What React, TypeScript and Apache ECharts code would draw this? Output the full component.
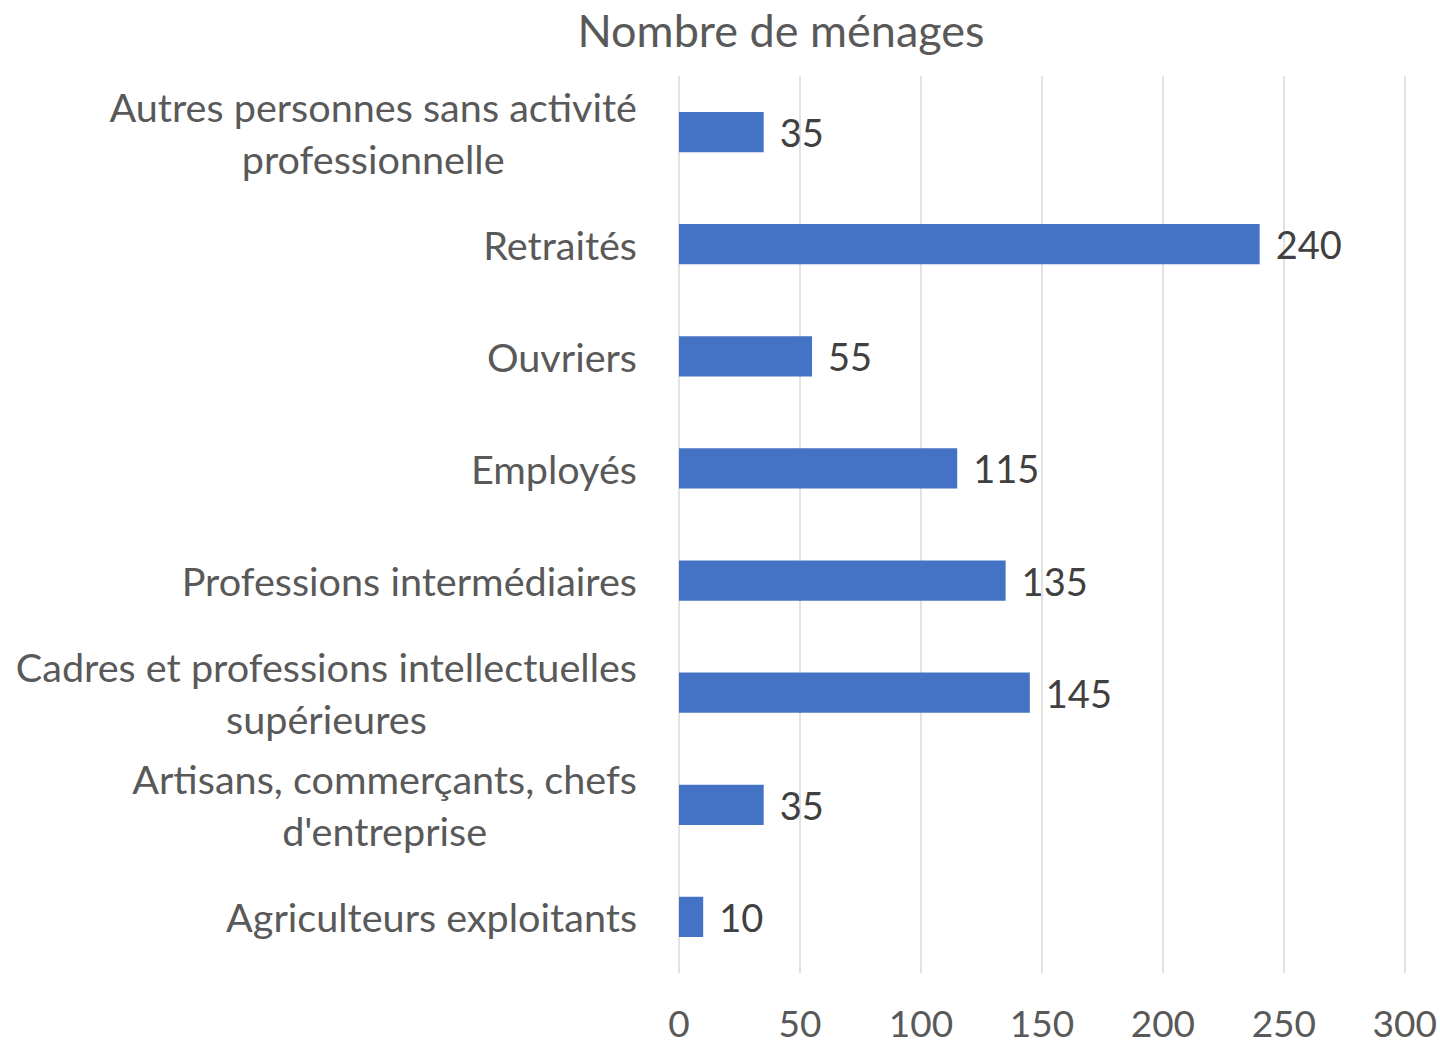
import React, { useEffect, useRef } from "react";
import * as echarts from "echarts";

const categories = [
  "Agriculteurs exploitants",
  "Artisans, commerçants, chefs\nd'entreprise",
  "Cadres et professions intellectuelles\nsupérieures",
  "Professions intermédiaires",
  "Employés",
  "Ouvriers",
  "Retraités",
  "Autres personnes sans activité\nprofessionnelle",
];
const values = [10, 35, 145, 135, 115, 55, 240, 35];
const xTicks = { min: 0, max: 300, interval: 50 };
const titleText = "Nombre de ménages";

const FONT = "Lato";

export default function App() {
  const ref = useRef<HTMLDivElement>(null);
  useEffect(() => {
    if (!ref.current) return;
    const chart = echarts.init(ref.current, null, { renderer: "svg" });
    chart.setOption({
      animation: false,
      backgroundColor: "#ffffff",
      title: {
        text: titleText,
        left: 776,
        textAlign: "center",
        top: 0,
        textStyle: {
          fontFamily: FONT,
          fontSize: 45,
          fontWeight: "normal",
          color: "#595959",
          lineHeight: 50,
        },
      },
      grid: { left: 679, right: 35, top: 76, bottom: 71, containLabel: false },
      xAxis: {
        type: "value",
        min: xTicks.min,
        max: xTicks.max,
        interval: xTicks.interval,
        axisLine: { show: false },
        axisTick: { show: false },
        splitLine: { show: true, lineStyle: { color: "#d9d9d9", width: 1.5 } },
        axisLabel: {
          fontFamily: FONT,
          fontSize: 37,
          color: "#595959",
          margin: 31,
          lineHeight: 36,
        },
      },
      yAxis: {
        type: "category",
        data: categories,
        axisLine: { show: false },
        axisTick: { show: false },
        axisLabel: {
          margin: 42,
          formatter: (v: string) =>
            v
              .split("\n")
              .map((l) => `{c|${l}}`)
              .join("\n"),
          rich: {
            c: {
              align: "center",
              fontFamily: FONT,
              fontSize: 39.6,
              color: "#595959",
              lineHeight: 52,
            },
          },
        },
      },
      series: [
        {
          type: "bar",
          data: values,
          barWidth: "36%",
          itemStyle: { color: "#4472C4" },
          label: {
            show: true,
            position: "right",
            distance: 16,
            fontFamily: FONT,
            fontSize: 38,
            color: "#404040",
          },
        },
      ],
    });
    return () => chart.dispose();
  }, []);
  return (
    <div
      ref={ref}
      style={{ position: "fixed", left: 0, top: 0, width: 1440, height: 1044 }}
    />
  );
}
